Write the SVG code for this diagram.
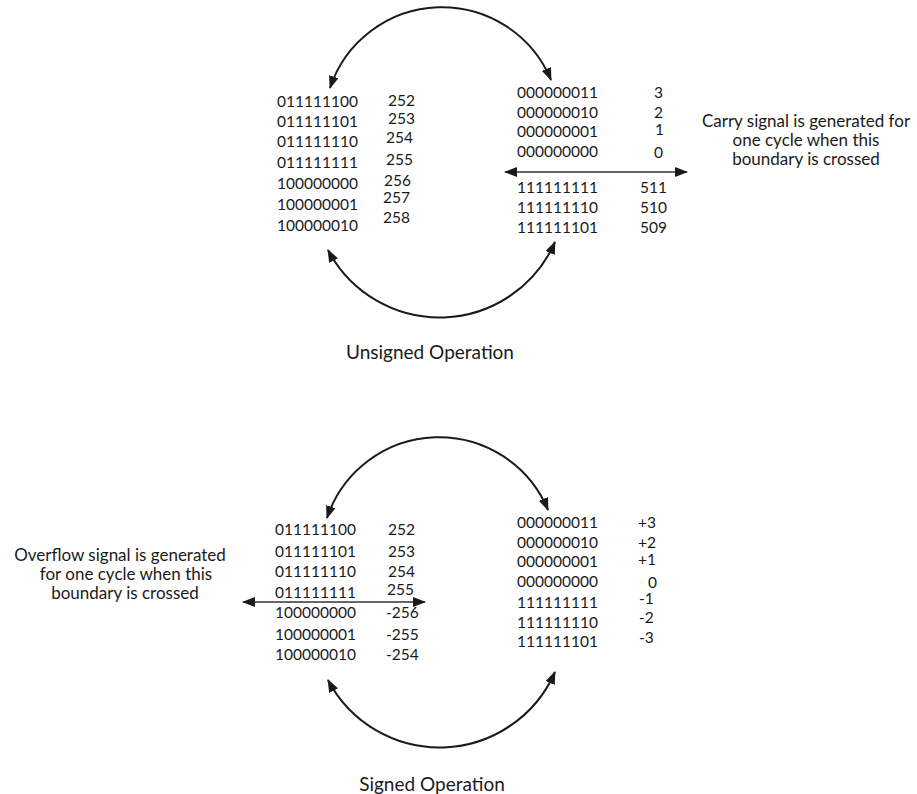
<svg xmlns="http://www.w3.org/2000/svg" width="917" height="794" viewBox="0 0 917 794">
<style>
text{font-family:Lato,"Open Sans","Liberation Sans",sans-serif;fill:#1a1a1a}
.n{font-size:15.5px}
.l{font-size:17px;text-anchor:middle}
.t{font-size:19px;text-anchor:middle}
.arc{fill:none;stroke:#1a1a1a;stroke-width:2}
.ln{fill:none;stroke:#333;stroke-width:1.3}
</style>
<defs>
<marker id="ah" markerUnits="userSpaceOnUse" markerWidth="14" markerHeight="12" refX="12" refY="5" orient="auto-start-reverse">
<path d="M0,0 L13,5 L0,10 z" fill="#1a1a1a"/>
</marker>
</defs>
<g id="connectors">
<path class="arc" d="M330,88 A118,118 0 0 1 551,80" marker-start="url(#ah)" marker-end="url(#ah)"/>
<path class="arc" d="M328,250 A126,126 0 0 0 555,242" marker-start="url(#ah)" marker-end="url(#ah)"/>
<path class="arc" d="M327,518 A118,118 0 0 1 548,510" marker-start="url(#ah)" marker-end="url(#ah)"/>
<path class="arc" d="M328,680 A126,126 0 0 0 555,672" marker-start="url(#ah)" marker-end="url(#ah)"/>
<path class="ln" d="M505,172 L687,172" marker-start="url(#ah)" marker-end="url(#ah)"/>
<path class="ln" d="M243,602 L425,602" marker-start="url(#ah)" marker-end="url(#ah)"/>
</g>
<g id="unsigned-left">
<text class="n" x="277" y="107">011111100</text>
<text class="n" x="277" y="127">011111101</text>
<text class="n" x="277" y="147">011111110</text>
<text class="n" x="277" y="168">011111111</text>
<text class="n" x="277" y="189">100000000</text>
<text class="n" x="277" y="210">100000001</text>
<text class="n" x="277" y="231">100000010</text>
<text class="n" x="388" y="106">252</text>
<text class="n" x="388" y="124">253</text>
<text class="n" x="386" y="143">254</text>
<text class="n" x="386" y="165">255</text>
<text class="n" x="384" y="186">256</text>
<text class="n" x="383" y="203">257</text>
<text class="n" x="383" y="223">258</text>
</g>
<g id="unsigned-right">
<text class="n" x="517" y="98">000000011</text>
<text class="n" x="517" y="118">000000010</text>
<text class="n" x="517" y="137">000000001</text>
<text class="n" x="517" y="157">000000000</text>
<text class="n" x="517" y="193">111111111</text>
<text class="n" x="517" y="213">111111110</text>
<text class="n" x="517" y="233">111111101</text>
<text class="n" x="654" y="98">3</text>
<text class="n" x="654" y="118">2</text>
<text class="n" x="655" y="135">1</text>
<text class="n" x="654" y="158">0</text>
<text class="n" x="640" y="193">511</text>
<text class="n" x="640" y="213">510</text>
<text class="n" x="640" y="233">509</text>
</g>
<g id="carry-note">
<text class="l" x="806" y="127">Carry signal is generated for</text>
<text class="l" x="806" y="146">one cycle when this</text>
<text class="l" x="806" y="165">boundary is crossed</text>
</g>
<g id="unsigned-label">
<text class="t" x="430" y="359">Unsigned Operation</text>
</g>
<g id="signed-left">
<text class="n" x="275" y="535">011111100</text>
<text class="n" x="275" y="557">011111101</text>
<text class="n" x="275" y="577">011111110</text>
<text class="n" x="275" y="598">011111111</text>
<text class="n" x="275" y="618">100000000</text>
<text class="n" x="275" y="640">100000001</text>
<text class="n" x="275" y="660">100000010</text>
<text class="n" x="388" y="535">252</text>
<text class="n" x="388" y="557">253</text>
<text class="n" x="388" y="577">254</text>
<text class="n" x="387" y="595">255</text>
<text class="n" x="386" y="618">-256</text>
<text class="n" x="386" y="640">-255</text>
<text class="n" x="386" y="660">-254</text>
</g>
<g id="signed-right">
<text class="n" x="517" y="528">000000011</text>
<text class="n" x="517" y="548">000000010</text>
<text class="n" x="517" y="567">000000001</text>
<text class="n" x="517" y="587">000000000</text>
<text class="n" x="517" y="608">111111111</text>
<text class="n" x="517" y="628">111111110</text>
<text class="n" x="517" y="647">111111101</text>
<text class="n" x="638" y="528">+3</text>
<text class="n" x="638" y="548">+2</text>
<text class="n" x="638" y="565">+1</text>
<text class="n" x="648" y="588">0</text>
<text class="n" x="639" y="604">-1</text>
<text class="n" x="639" y="623">-2</text>
<text class="n" x="639" y="643">-3</text>
</g>
<g id="overflow-note">
<text class="l" x="120" y="561">Overflow signal is generated</text>
<text class="l" x="126" y="580">for one cycle when this</text>
<text class="l" x="125" y="599">boundary is crossed</text>
</g>
<g id="signed-label">
<text class="t" x="432" y="791">Signed Operation</text>
</g>
</svg>
